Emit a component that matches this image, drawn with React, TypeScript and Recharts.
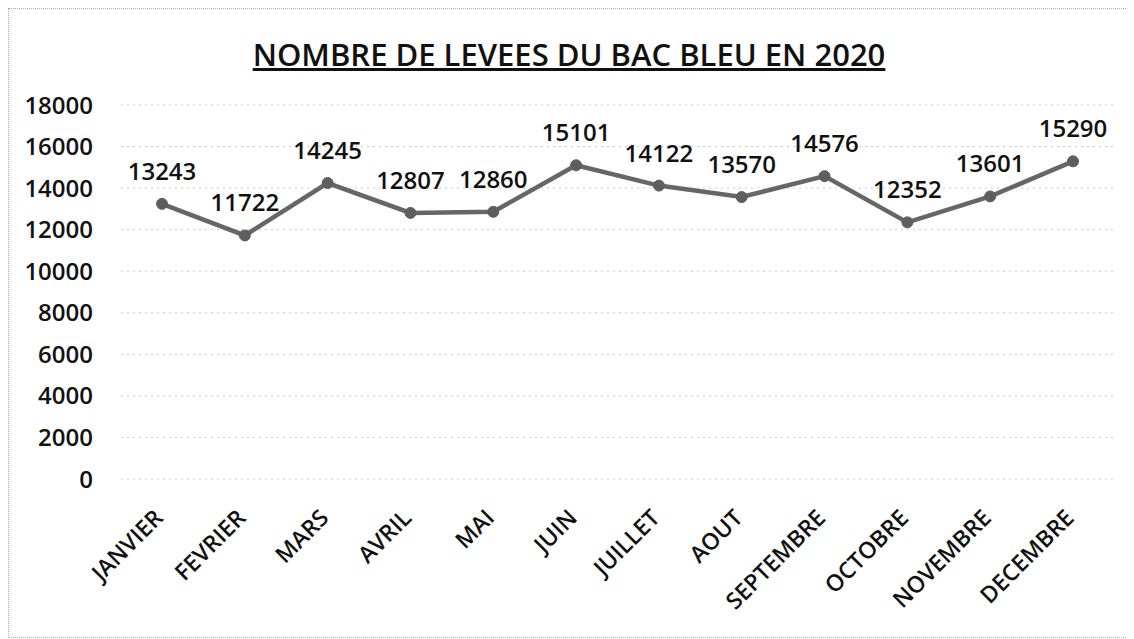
import { LineChart, Line, XAxis, YAxis, CartesianGrid, LabelList } from 'recharts'

const MONTHS = [
  'JANVIER', 'FEVRIER', 'MARS', 'AVRIL', 'MAI', 'JUIN',
  'JUILLET', 'AOUT', 'SEPTEMBRE', 'OCTOBRE', 'NOVEMBRE', 'DECEMBRE',
]
const LEVEES = [13243, 11722, 14245, 12807, 12860, 15101, 14122, 13570, 14576, 12352, 13601, 15290]
const Y_TICKS = [0, 2000, 4000, 6000, 8000, 10000, 12000, 14000, 16000, 18000]

const FONT = '"Open Sans", "Noto Sans", sans-serif'
const data = MONTHS.map((name, i) => ({ name, value: LEVEES[i] }))

function MonthTick({ x, y, payload }: any) {
  const tx = x - 4
  return (
    <text
      x={tx}
      y={y}
      transform={`rotate(-45 ${tx} ${y})`}
      textAnchor="end"
      dominantBaseline="central"
      fontFamily={FONT}
      fontSize={23}
      fontWeight={600}
      fill="#111"
    >
      {payload.value}
    </text>
  )
}

export default function App() {
  return (
    <div
      style={{
        position: 'relative',
        width: 1120,
        height: 628,
        border: '1px dotted #aaa',
        background: '#fff',
        fontFamily: FONT,
      }}
    >
      <div
        style={{
          position: 'absolute',
          top: 24,
          left: 0,
          width: '100%',
          textAlign: 'center',
          fontSize: 31,
          fontWeight: 600,
          textDecoration: 'underline',
          color: '#111',
        }}
      >
        NOMBRE DE LEVEES DU BAC BLEU EN 2020
      </div>
      <LineChart width={1120} height={628} data={data} margin={{ top: 96, right: 15, left: 0, bottom: 0 }}>
        <CartesianGrid vertical={false} stroke="#c8c8c8" strokeDasharray="2 4" />
        <XAxis
          dataKey="name"
          axisLine={false}
          tickLine={false}
          tickSize={0}
          tick={<MonthTick />}
          tickMargin={34}
          height={158}
          interval={0}
          padding={{ left: 41, right: 41 }}
        />
        <YAxis
          ticks={Y_TICKS}
          domain={[0, 18000]}
          axisLine={false}
          tickLine={false}
          tickSize={0}
          tickMargin={28}
          width={112}
          tick={{ fontFamily: FONT, fontSize: 24, fontWeight: 600, fill: '#111' }}
        />
        <Line
          dataKey="value"
          stroke="#666"
          strokeWidth={4.5}
          dot={{ r: 5.5, fill: '#5e5e5e', stroke: '#5e5e5e', strokeWidth: 1 }}
          isAnimationActive={false}
        >
          <LabelList
            dataKey="value"
            position="top"
            offset={24}
            style={{ fontFamily: FONT, fontSize: 24, fontWeight: 600, fill: '#111' }}
          />
        </Line>
      </LineChart>
    </div>
  )
}
